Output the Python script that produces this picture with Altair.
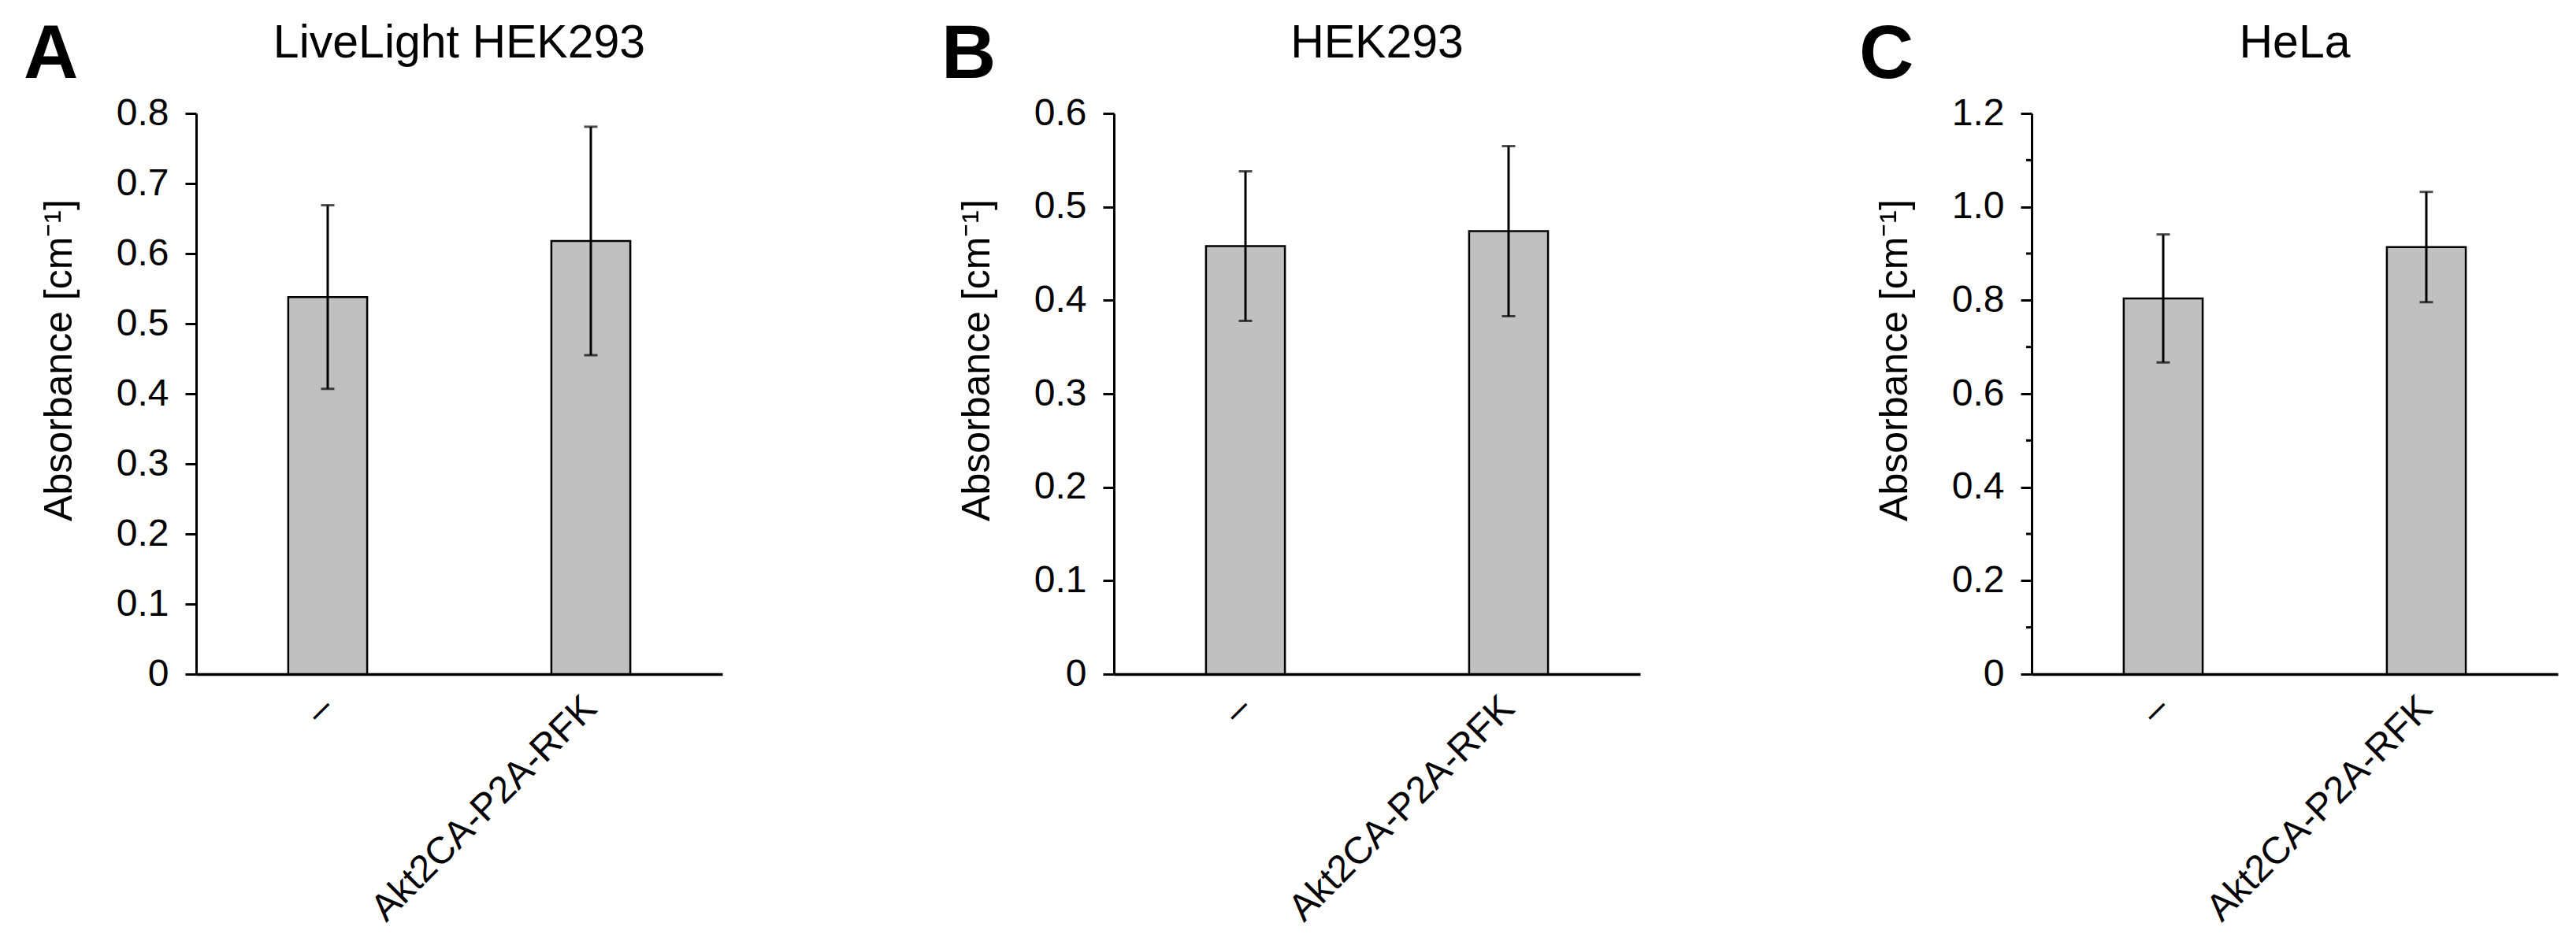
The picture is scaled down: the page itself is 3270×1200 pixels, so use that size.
import altair as alt
import pandas as pd

FONT = "Liberation Sans"

categories = ["–", "Akt2CA-P2A-RFK"]

panel_letters = ["A", "B", "C"]
panel_titles = ["LiveLight HEK293", "HEK293", "HeLa"]

a_mean = [0.538, 0.618]
a_err = [0.131, 0.163]
b_mean = [0.458, 0.474]
b_err = [0.080, 0.091]
c_mean = [0.804, 0.914]
c_err = [0.137, 0.118]

a_ticks = [0, 0.1, 0.2, 0.3, 0.4, 0.5, 0.6, 0.7, 0.8]
b_ticks = [0, 0.1, 0.2, 0.3, 0.4, 0.5, 0.6]
c_ticks = [0, 0.2, 0.4, 0.6, 0.8, 1.0, 1.2]
c_minor = [0.1, 0.3, 0.5, 0.7, 0.9, 1.1]

Y_TITLE = "Absorbance [cm⁻¹]"
W = 668
H = 712


def panel(letter, title, means, errs, ticks, minor=None):
    df = pd.DataFrame({"cat": categories, "mean": means, "err": errs})
    df["lo"] = df["mean"] - df["err"]
    df["hi"] = df["mean"] + df["err"]
    ymax = ticks[-1]
    yscale = alt.Scale(domain=[0, ymax], nice=False, zero=True)
    xscale = alt.Scale(paddingInner=0.7, paddingOuter=0.35)
    xaxis = alt.Axis(labelAngle=315, labelAlign="right", labelBaseline="middle",
                     labelPadding=36, ticks=False, domainWidth=3.5,
                     domainColor="black", labelFontSize=48, labelColor="black",
                     labelFont=FONT, labelLimit=0)
    yaxis = alt.Axis(values=ticks,
                     labelExpr="datum.value == 0 ? '0' : format(datum.value, '.1f')",
                     tickSize=14, tickWidth=3, tickColor="black",
                     domainWidth=3, domainColor="black",
                     labelFontSize=48, labelPadding=21, labelColor="black",
                     labelFont=FONT, titleFont=FONT, titleFontSize=50,
                     titleFontWeight="normal", titleColor="black",
                     titleX=-149, titleY=313, grid=False)
    base = alt.Chart(df)
    x = alt.X("cat:N", sort=categories, title=None, scale=xscale, axis=xaxis)
    bars = base.mark_bar(fill="#c0c0c0", stroke="black", strokeWidth=2.5).encode(
        x=x, y=alt.Y("mean:Q", scale=yscale, title=Y_TITLE, axis=yaxis))
    rule = base.mark_rule(color="black", strokeWidth=3).encode(
        x=alt.X("cat:N", sort=categories),
        y=alt.Y("lo:Q", scale=yscale, title=Y_TITLE), y2="hi:Q")
    cap_hi = base.mark_tick(color="black", thickness=3, size=17, orient="horizontal").encode(
        x=alt.X("cat:N", sort=categories), y=alt.Y("hi:Q", scale=yscale, title=Y_TITLE))
    cap_lo = base.mark_tick(color="black", thickness=3, size=17, orient="horizontal").encode(
        x=alt.X("cat:N", sort=categories), y=alt.Y("lo:Q", scale=yscale, title=Y_TITLE))
    letter_mark = alt.Chart(pd.DataFrame({"t": [letter]})).mark_text(
        font=FONT, fontSize=96, fontWeight="bold", align="left",
        baseline="alphabetic", color="black").encode(
        text="t:N", x=alt.value(-219), y=alt.value(-45))
    title_mark = alt.Chart(pd.DataFrame({"t": [title]})).mark_text(
        font=FONT, fontSize=59, align="center", baseline="alphabetic",
        color="black").encode(text="t:N", x=alt.value(W / 2), y=alt.value(-71))
    layers = [bars, rule, cap_hi, cap_lo]
    if minor is not None:
        mdf = pd.DataFrame({"v": minor})
        layers.append(alt.Chart(mdf).mark_rule(color="black", strokeWidth=3).encode(
            y=alt.Y("v:Q", scale=yscale, title=Y_TITLE),
            x=alt.value(-7), x2=alt.value(0)))
    layers += [letter_mark, title_mark]
    return alt.layer(*layers).properties(width=W, height=H)


pa = panel(panel_letters[0], panel_titles[0], a_mean, a_err, a_ticks)
pb = panel(panel_letters[1], panel_titles[1], b_mean, b_err, b_ticks)
pc = panel(panel_letters[2], panel_titles[2], c_mean, c_err, c_ticks, c_minor)

chart = alt.hconcat(pa, pb, pc, spacing=276).properties(
    padding={"left": 21, "top": 13, "right": 0, "bottom": 0},
    background="white",
).configure_view(stroke="transparent")

chart.save("out.html", embed_options={"renderer": "svg", "actions": False})
